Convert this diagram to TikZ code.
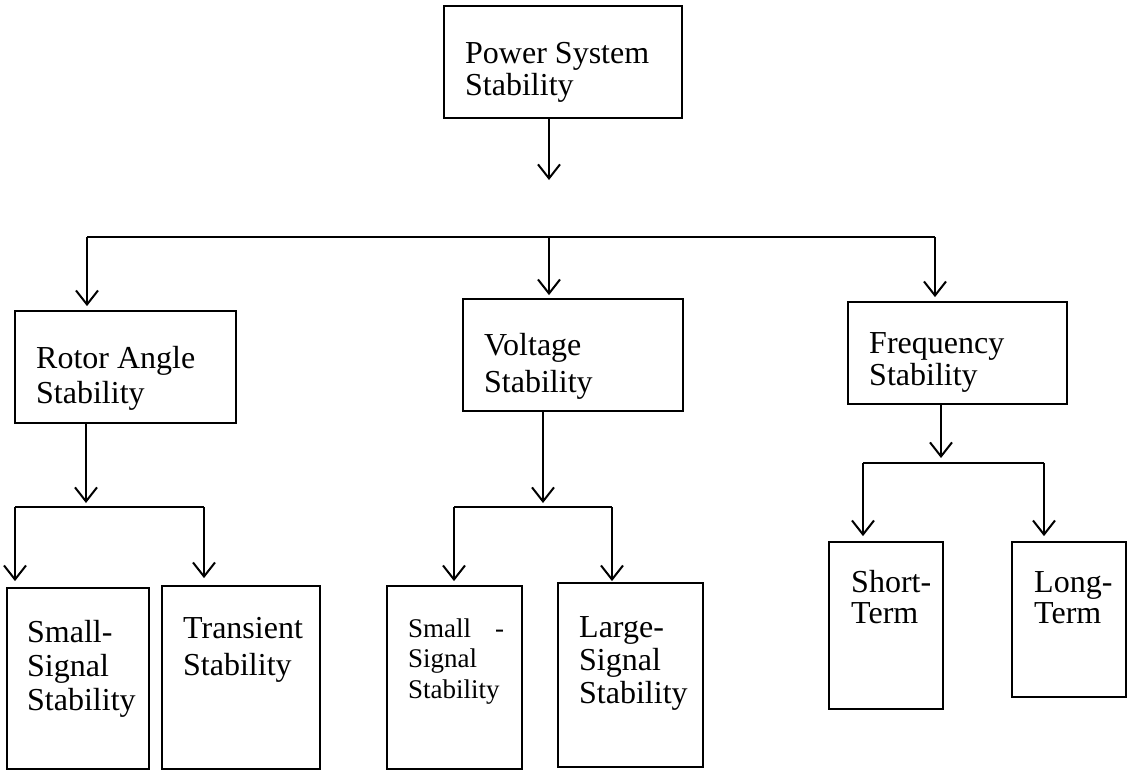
\documentclass[tikz,border=0pt]{standalone}
\usepackage{fontspec}
\setmainfont{Liberation Serif}
\usetikzlibrary{arrows.meta}
\tikzset{
  box/.style={draw, line width=1.8pt, inner sep=0pt, rectangle},
  arr/.style={line width=2pt, -{Straight Barb[length=14pt,width=22pt,line width=2pt]}},
  wire/.style={line width=2pt},
  txt/.style={anchor=base west, align=left, inner sep=0pt},
}
\begin{document}
\begin{tikzpicture}[x=1pt,y=-1pt]
\useasboundingbox (0,0) rectangle (1130,772);
% boxes
\node[box, minimum width=238pt, minimum height=112pt] (pss) at (563,62) {};
\node[box, minimum width=221pt, minimum height=112pt] (rotor) at (125.5,367) {};
\node[box, minimum width=220pt, minimum height=112pt] (volt) at (573,355) {};
\node[box, minimum width=219pt, minimum height=102pt] (freq) at (957.5,353) {};
\node[box, minimum width=142pt, minimum height=181pt] (ssa) at (78,678.5) {};
\node[box, minimum width=158pt, minimum height=183pt] (trans) at (241,677.5) {};
\node[box, minimum width=135pt, minimum height=183pt] (ssb) at (454.5,677.5) {};
\node[box, minimum width=145pt, minimum height=184pt] (large) at (630.5,675) {};
\node[box, minimum width=114pt, minimum height=167pt] (short) at (886,625.5) {};
\node[box, minimum width=114pt, minimum height=155pt] (long) at (1069,619.5) {};
% texts (anchored at the baseline of the last line)
\node[txt, font=\fontsize{32}{32}\selectfont] (tpss) at (465,95) {Power System\\Stability};
\node[txt, font=\fontsize{32}{35}\selectfont] (trotor) at (36,403) {Rotor Angle\\Stability};
\node[txt, font=\fontsize{32}{37}\selectfont] (tvolt) at (484,392) {Voltage\\Stability};
\node[txt, font=\fontsize{32}{32}\selectfont] (tfreq) at (869,385) {Frequency\\Stability};
\node[txt, font=\fontsize{32}{34}\selectfont] (tssa) at (27,710) {Small-\\Signal\\Stability};
\node[txt, font=\fontsize{32}{37}\selectfont] (ttrans) at (183,675) {Transient\\Stability};
\node[txt, font=\fontsize{27}{30.5}\selectfont] (tssb) at (408,698) {Small\hspace{24pt}-\\Signal\\Stability};
\node[txt, font=\fontsize{32}{33}\selectfont] (tlarge) at (579,703) {Large-\\Signal\\Stability};
\node[txt, font=\fontsize{32}{31}\selectfont] (tshort) at (851,623) {Short-\\Term};
\node[txt, font=\fontsize{32}{31}\selectfont] (tlong) at (1034,623) {Long-\\Term};
% junction coordinates
\coordinate (j0) at (549,180);
\coordinate (busL) at (87,237);
\coordinate (busM) at (549,237);
\coordinate (busR) at (935,237);
\coordinate (jr) at (86,503);
\coordinate (rL) at (15,507);
\coordinate (rR) at (204,507);
\coordinate (jv) at (543,503);
\coordinate (vL) at (454,507);
\coordinate (vR) at (612,507);
\coordinate (jf) at (941,458);
\coordinate (fL) at (863,463);
\coordinate (fR) at (1044,463);
% top level
\draw[arr] (pss.south -| j0) -- (j0);
\draw[wire] (busL) -- (busR);
\draw[arr, shorten >=4pt] (busL) -- (busL |- rotor.north);
\draw[arr, shorten >=3pt] (busM) -- (busM |- volt.north);
\draw[arr, shorten >=4pt] (busR) -- (busR |- freq.north);
% rotor
\draw[arr] (rotor.south -| jr) -- (jr);
\draw[wire] (rL) -- (rR);
\draw[arr, shorten >=6pt] (rL) -- (rL |- ssa.north);
\draw[arr, shorten >=7pt] (rR) -- (rR |- trans.north);
% voltage
\draw[arr] (volt.south -| jv) -- (jv);
\draw[wire] (vL) -- (vR);
\draw[arr, shorten >=4pt] (vL) -- (vL |- ssb.north);
\draw[arr, shorten >=1pt] (vR) -- (vR |- large.north);
% frequency
\draw[arr] (freq.south -| jf) -- (jf);
\draw[wire] (fL) -- (fR);
\draw[arr, shorten >=5pt] (fL) -- (fL |- short.north);
\draw[arr, shorten >=5pt] (fR) -- (fR |- long.north);
\end{tikzpicture}
\end{document}
